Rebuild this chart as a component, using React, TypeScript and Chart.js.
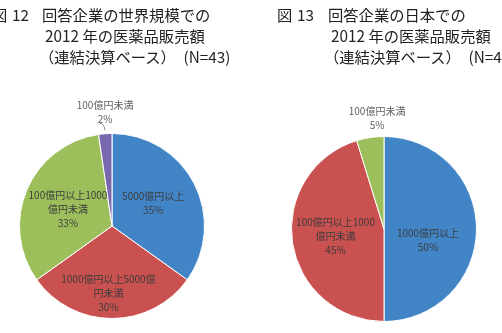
import React, { useEffect, useRef } from 'react';
import { Chart, registerables } from 'chart.js';

Chart.register(...registerables);

// ---- data ----
const worldCategories = ['5000億円以上', '1000億円以上5000億\n円未満', '100億円以上1000\n億円未満', '100億円未満'];
const worldCounts = [15, 13, 14, 1]; // N=43
const japanCategories = ['1000億円以上', '100億円以上1000\n億円未満', '100億円未満'];
const japanCounts = [21, 19, 2]; // N=42

// ---- styles ----
const worldColors = ['#4285c7', '#c9514f', '#9cbf5c', '#7a68ae'];
const japanColors = ['#4285c7', '#c9514f', '#9cbf5c'];
// label placement: radial factor, angle adjust (deg), outside flag, leader
const worldLabelPos = [
  { f: 0.51, da: -2, outside: false, leader: false },
  { f: 0.73, da: 3, outside: false, leader: false },
  { f: 0.51, da: -2, outside: false, leader: false },
  { f: 1.23, da: 0.7, outside: true, leader: true },
];
const japanLabelPos = [
  { f: 0.49, da: 14, outside: false, leader: false },
  { f: 0.53, da: 0, outside: false, leader: false },
  { f: 1.2, da: 5, outside: true, leader: false },
];

const FONT = '"Noto Sans CJK JP", "Noto Sans", sans-serif';

const sliceLabelPlugin = {
  id: 'sliceLabels',
  afterDatasetsDraw(chart: any, _args: any, opts: any) {
    const { ctx } = chart;
    const meta = chart.getDatasetMeta(0);
    const ds = chart.data.datasets[0];
    const vals: number[] = ds.data as number[];
    const sum = vals.reduce((a, b) => a + b, 0);
    const pos = opts.positions;
    ctx.save();
    ctx.font = `10px ${FONT}`;
    ctx.textAlign = 'center';
    ctx.textBaseline = 'middle';
    meta.data.forEach((arc: any, i: number) => {
      const p = arc.getProps(['x', 'y', 'startAngle', 'endAngle', 'outerRadius'], true);
      const cfg = pos[i];
      const mid = (p.startAngle + p.endAngle) / 2;
      const ang = mid + (cfg.da * Math.PI) / 180;
      const rr = p.outerRadius * cfg.f;
      const x = p.x + Math.cos(ang) * rr;
      const y = p.y + Math.sin(ang) * rr;
      const lines = String(chart.data.labels[i]).split('\n');
      lines.push(Math.round((vals[i] / sum) * 100) + '%');
      const lh = 14;
      ctx.fillStyle = cfg.outside ? '#5f5f5f' : '#3c3c3c';
      lines.forEach((ln: string, k: number) => {
        ctx.fillText(ln, x, y + (k - (lines.length - 1) / 2) * lh);
      });
      if (cfg.leader) {
        const by = y + ((lines.length - 1) / 2) * lh + 4;
        const ex = p.x + Math.cos(mid) * p.outerRadius * 1.04;
        const ey = p.y + Math.sin(mid) * p.outerRadius * 1.04;
        ctx.strokeStyle = '#8a8a8a';
        ctx.lineWidth = 1;
        ctx.beginPath();
        ctx.moveTo(x - 5, by);
        ctx.quadraticCurveTo(ex - 1, by, ex, ey);
        ctx.stroke();
      }
    });
    ctx.restore();
  },
};

function PieChart(props: {
  labels: string[];
  values: number[];
  colors: string[];
  positions: any[];
  padding: { left: number; right: number; top: number; bottom: number };
  left: number;
}) {
  const ref = useRef<HTMLCanvasElement>(null);
  useEffect(() => {
    if (!ref.current) return;
    const chart = new Chart(ref.current, {
      type: 'pie',
      data: {
        labels: props.labels,
        datasets: [
          {
            data: props.values,
            backgroundColor: props.colors,
            borderColor: '#ffffff',
            borderWidth: 1,
          },
        ],
      },
      options: {
        responsive: false,
        animation: false,
        layout: { padding: props.padding },
        plugins: {
          legend: { display: false },
          tooltip: { enabled: false },
          title: { display: false },
          sliceLabels: { positions: props.positions },
        } as any,
      },
      plugins: [sliceLabelPlugin as any],
    });
    return () => chart.destroy();
  }, []);
  return (
    <canvas
      ref={ref}
      width={251}
      height={333}
      style={{ position: 'absolute', left: props.left, top: 0, width: 251, height: 333 }}
    />
  );
}

const titleStyle: React.CSSProperties = {
  position: 'absolute',
  fontFamily: FONT,
  fontSize: '15.3px',
  lineHeight: '21px',
  color: '#222',
  whiteSpace: 'pre',
};

export default function App() {
  return (
    <div
      style={{
        position: 'absolute',
        left: 0,
        top: 0,
        width: 502,
        height: 333,
        overflow: 'hidden',
        background: '#ffffff',
      }}
    >
      <PieChart
        labels={worldCategories}
        values={worldCounts}
        colors={worldColors}
        positions={worldLabelPos}
        padding={{ left: 19, right: 46, top: 133, bottom: 14 }}
        left={0}
      />
      <PieChart
        labels={japanCategories}
        values={japanCounts}
        colors={japanColors}
        positions={japanLabelPos}
        padding={{ left: 40, right: 25, top: 136, bottom: 11 }}
        left={251}
      />
      <div style={{ ...titleStyle, left: -8, top: 4 }}>図</div>
      <div style={{ ...titleStyle, left: 12, top: 4 }}>12</div>
      <div style={{ ...titleStyle, left: 42, top: 4 }}>回答企業の世界規模での</div>
      <div style={{ ...titleStyle, left: 45, top: 25 }}>2012 年の医薬品販売額</div>
      <div style={{ ...titleStyle, left: 39, top: 46 }}>（連結決算ベース）　(N=43)</div>

      <div style={{ ...titleStyle, left: 277, top: 4 }}>図</div>
      <div style={{ ...titleStyle, left: 297, top: 4 }}>13</div>
      <div style={{ ...titleStyle, left: 328, top: 4 }}>回答企業の日本での</div>
      <div style={{ ...titleStyle, left: 331, top: 25 }}>2012 年の医薬品販売額</div>
      <div style={{ ...titleStyle, left: 324, top: 46 }}>（連結決算ベース）　(N=42)</div>
    </div>
  );
}
